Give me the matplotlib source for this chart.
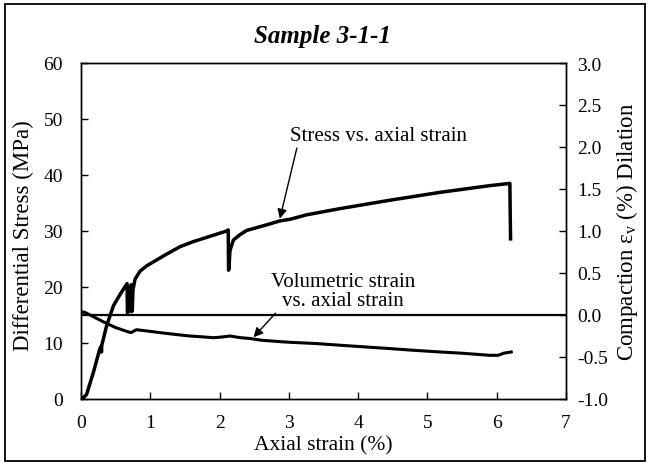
import matplotlib
matplotlib.use("Agg")
import matplotlib.pyplot as plt
from matplotlib.patches import Rectangle

plt.rcParams['font.family'] = ['Liberation Serif', 'DejaVu Serif']
plt.rcParams['mathtext.fontset'] = 'custom'
plt.rcParams['mathtext.rm'] = 'Liberation Serif'
plt.rcParams['mathtext.it'] = 'Liberation Serif:italic'

# Stress vs axial strain
stress_x = [0, 0.04, 0.08, 0.18, 0.27, 0.29, 0.295, 0.30, 0.37, 0.47, 0.58, 0.665,
            0.67, 0.68, 0.695, 0.725, 0.73, 0.74, 0.75, 0.78, 0.85, 0.95, 1.24, 1.43,
            1.62, 1.9, 2.10, 2.125, 2.13, 2.135, 2.15, 2.2, 2.29, 2.39, 2.68, 2.87,
            3.02, 3.26, 3.74, 4.46, 5.18, 5.9, 6.19, 6.195, 6.20]
stress_y = [0, 0.3, 0.8, 4.8, 8.9, 9.4, 8.4, 9.6, 13.1, 16.7, 19.0, 20.6,
            15.4, 15.5, 19.5, 20.4, 15.6, 15.8, 19.5, 21.4, 22.8, 23.8, 25.9, 27.2,
            28.1, 29.2, 30.0, 30.2, 23.0, 23.3, 26.5, 28.4, 29.3, 30.1, 31.1, 31.8,
            32.1, 32.9, 34.0, 35.5, 36.9, 38.1, 38.5, 33.0, 28.6]

# Volumetric strain vs axial strain
vol_x = [0, 0.06, 0.13, 0.32, 0.5, 0.68, 0.72, 0.8, 1.0, 1.14, 1.4, 1.57, 1.75,
         1.91, 2.0, 2.15, 2.3, 2.44, 2.6, 2.92, 3.02, 3.4, 3.74, 4.1, 4.46, 4.8,
         5.18, 5.5, 5.9, 6.02, 6.1, 6.21]
vol_y = [0.04, 0.03, 0.0, -0.08, -0.15, -0.2, -0.21, -0.175, -0.195, -0.21, -0.235,
         -0.25, -0.26, -0.27, -0.265, -0.25, -0.27, -0.28, -0.30, -0.32, -0.325,
         -0.34, -0.36, -0.38, -0.40, -0.42, -0.44, -0.455, -0.48, -0.48, -0.455, -0.44]

x_ticks = [0, 1, 2, 3, 4, 5, 6, 7]
left_ticks = [0, 10, 20, 30, 40, 50, 60]
right_ticks = [-1.0, -0.5, 0.0, 0.5, 1.0, 1.5, 2.0, 2.5, 3.0]

W, H = 651, 464
fig = plt.figure(figsize=(W / 100, H / 100), dpi=100)
fig.patch.set_facecolor('white')
fig.patches.append(Rectangle((5 / W, 2 / H), (645 - 5) / W, (459 - 2) / H,
                             transform=fig.transFigure, fill=False,
                             edgecolor='black', linewidth=1.3))

L, R, T, B = 81, 566, 64, 400
ax = fig.add_axes([L / W, (H - B) / H, (R - L) / W, (B - T) / H])
ax2 = ax.twinx()

ax.plot(stress_x, stress_y, color='black', lw=2.5, solid_joinstyle='round')
ax2.plot(vol_x, vol_y, color='black', lw=2.2, solid_joinstyle='round')
ax2.axhline(0.0, color='black', lw=1.6)

ax.set_xlim(0, 7)
ax.set_ylim(0, 60)
ax2.set_ylim(-1, 3)
ax.set_xticks(x_ticks)
ax.set_yticks(left_ticks)
ax2.set_yticks(right_ticks)
ax2.set_yticklabels([f"{v:.1f}" for v in right_ticks])

ax.tick_params(axis='both', direction='in', length=5, width=1, labelsize=14)
ax.tick_params(axis='y', pad=13)
ax.tick_params(axis='x', pad=11)
ax2.tick_params(axis='y', direction='in', length=5, width=1, labelsize=14, pad=8)
for a in (ax, ax2):
    for s in a.spines.values():
        s.set_linewidth(1.0)

ax.set_xlabel('Axial strain (%)', fontsize=15.5)
ax.xaxis.set_label_coords(0.5, -0.108)
ax.set_ylabel('Differential Stress (MPa)', fontsize=16.5)
ax.yaxis.set_label_coords(-0.097, 0.49)
ax2.set_ylabel('Compaction ε$_{\\mathregular{v}}$ (%) Dilation', fontsize=16.5,
               rotation=90)
ax2.yaxis.set_label_coords(1.1, 0.5)

fig.text(323 / W, 1 - 37 / H, 'Sample 3-1-1', ha='center', va='center',
         fontsize=18, fontweight='bold', fontstyle='italic')

ax.annotate('Stress vs. axial strain', xy=(2.87, 32.2), xytext=(4.3, 47.0),
            ha='center', va='center', fontsize=15,
            arrowprops=dict(arrowstyle='-|>', color='black', lw=1.0,
                            mutation_scale=14, shrinkA=0, shrinkB=0,
                            relpos=(0.04, 0.0)))
ax2.annotate('Volumetric strain\nvs. axial strain', xy=(2.49, -0.265),
             xytext=(3.78, 0.28), ha='center', va='center', fontsize=15,
             linespacing=1.0,
             arrowprops=dict(arrowstyle='-|>', color='black', lw=1.0,
                             mutation_scale=14, shrinkA=0, shrinkB=0,
                             relpos=(0.05, 0.0)))

fig.savefig('out.png', dpi=100, facecolor='white')
